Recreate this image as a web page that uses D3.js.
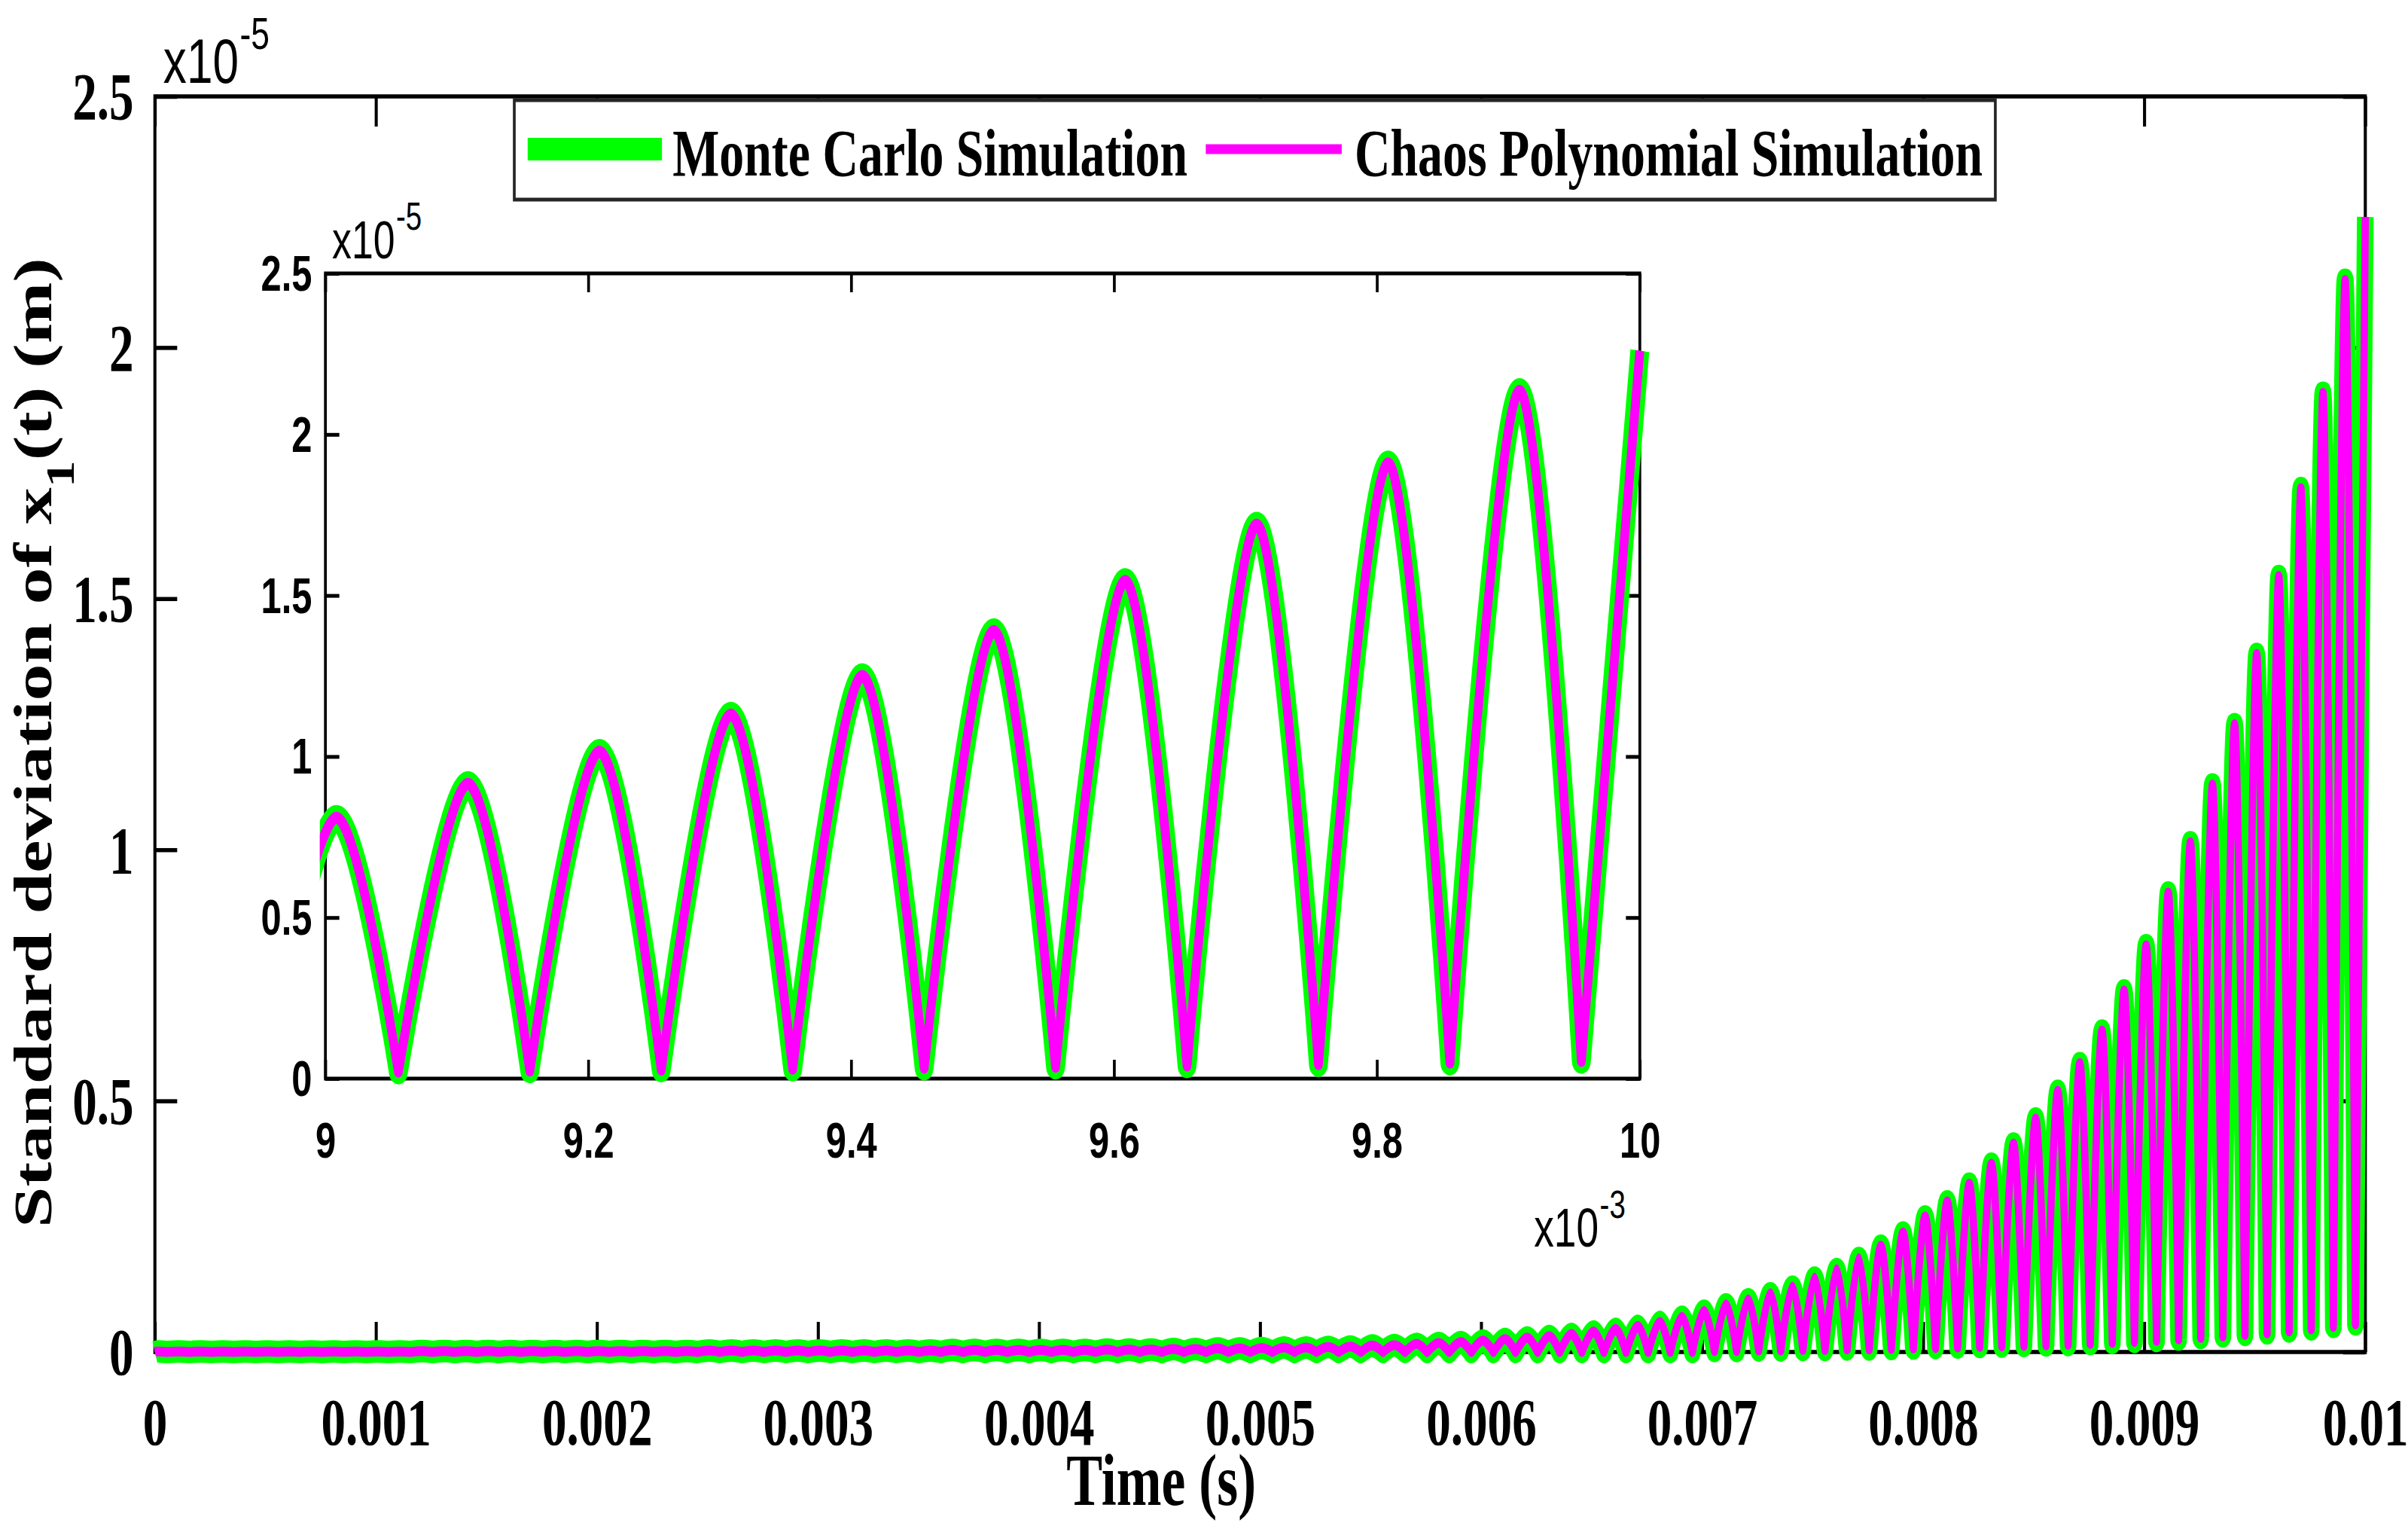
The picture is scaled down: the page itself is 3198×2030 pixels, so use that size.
<!DOCTYPE html>
<html>
<head>
<meta charset="utf-8">
<script src="https://cdn.jsdelivr.net/npm/d3@7"></script>
<style>
  body { margin: 0; background: #fff; }
</style>
</head>
<body>
<script>
// std deviation values are in units of 1e-5 m
var period = 1e-4;        // s, one oscillation
var peakPhase = 0.085;    // where the peak sits inside a period
var troughPhase = 0.555;  // where the trough sits inside a period
var startValue = 0;
var endTime = 0.01;
var endValue = 2.26;

var peakValues = [
  0.001, 0.001, 0.001, 0.001, 0.001, 0.001, 0.001, 0.001, 0.001, 0.001,
  0.001, 0.001, 0.002, 0.002, 0.002, 0.002, 0.002, 0.002, 0.002, 0.002,
  0.002, 0.002, 0.002, 0.002, 0.002, 0.003, 0.003, 0.003, 0.003, 0.003,
  0.003, 0.003, 0.003, 0.003, 0.003, 0.003, 0.004, 0.004, 0.004, 0.004,
  0.004, 0.004, 0.004, 0.005, 0.005, 0.005, 0.006, 0.006, 0.007, 0.007,
  0.008, 0.009, 0.009, 0.010, 0.011, 0.013, 0.014, 0.016, 0.018, 0.020,
  0.023, 0.026, 0.029, 0.032, 0.036, 0.041, 0.046, 0.052, 0.060, 0.070,
  0.082, 0.095, 0.105, 0.117, 0.130, 0.148, 0.165, 0.187, 0.212, 0.238,
  0.270, 0.300, 0.335, 0.375, 0.415, 0.465, 0.520, 0.575, 0.640, 0.720,
  0.810, 0.915, 1.015, 1.130, 1.250, 1.390, 1.545, 1.720, 1.910, 2.135
];

var troughValues = [
  0, 0, 0, 0, 0, 0, 0, 0, 0, 0,
  0, 0, 0, 0, 0, 0, 0, 0, 0, 0,
  0, 0, 0, 0, 0, 0, 0, 0, 0, 0,
  0, 0, 0, 0, 0, 0, 0, 0, 0, 0,
  0, 0, 0, 0, 0, 0, 0, 0, 0, 0,
  0, 0, 0, 0, 0, 0, 0, 0, 0, 0,
  0, 0, 0, 0, 0, 0, 0, 0, 0, 0,
  0.002, 0.002, 0.003, 0.003, 0.004, 0.004, 0.005, 0.005, 0.006, 0.007,
  0.008, 0.009, 0.010, 0.011, 0.012, 0.013, 0.014, 0.016, 0.018, 0.020,
  0.022, 0.025, 0.028, 0.031, 0.034, 0.037, 0.041, 0.045, 0.050, 0.055
];

var mainXTicks = [0, 0.001, 0.002, 0.003, 0.004, 0.005, 0.006, 0.007, 0.008, 0.009, 0.01];
var mainYTicks = [0, 0.5, 1, 1.5, 2, 2.5];
var insetXTicks = [9, 9.2, 9.4, 9.6, 9.8, 10];   // x 1e-3 s
var insetYTicks = [0, 0.5, 1, 1.5, 2, 2.5];
var seriesNames = ["Monte Carlo Simulation", "Chaos Polynomial Simulation"];
var seriesColors = ["#00ff00", "#ff00ff"];
var seriesWidths = [30, 13];
var insetWidths = [34, 16];

// the whole figure is squeezed horizontally, so draw wide and scale x
var SX = 0.74;
var W = 3198, H = 2030;
var serif = "'Liberation Serif', 'Times New Roman', serif";
var sans = "'Liberation Sans', Arial, sans-serif";

var main = {left: 278, right: 4245, top: 128, bottom: 1795};
var inset = {left: 584, right: 2943, top: 363, bottom: 1432};

// series points: start, then peak / trough per cycle (trough doubled so the curve has a cusp)
var points = [{t: 0, v: startValue}];
peakValues.forEach(function(p, k) {
  points.push({t: (k + peakPhase) * period, v: p});
  var tr = {t: (k + troughPhase) * period, v: troughValues[k]};
  points.push(tr, tr);
});
points.push({t: endTime, v: endValue});

var svg = d3.select("body").append("svg")
    .attr("width", W)
    .attr("height", H);
svg.append("rect").attr("width", W).attr("height", H).attr("fill", "#fff");

var root = svg.append("g").attr("transform", "scale(" + SX + ",1)");

function drawAxes(g, x, y, box, opt) {
  var ax = g.append("g");
  ax.append("g").attr("transform", "translate(0," + box.bottom + ")")
      .call(d3.axisBottom(x).tickValues(opt.xTicks).tickSizeInner(-opt.tick).tickSizeOuter(0)
        .tickPadding(opt.xPad).tickFormat(opt.xFormat));
  var left = ax.append("g").attr("transform", "translate(" + box.left + ",0)")
      .call(d3.axisLeft(y).tickValues(opt.yTicks).tickSizeInner(-opt.tick).tickSizeOuter(0)
        .tickPadding(opt.yPad).tickFormat(opt.yFormat));
  ax.append("g").attr("transform", "translate(0," + box.top + ")")
      .call(d3.axisTop(x).tickValues(opt.xTicks).tickSizeInner(-opt.tick).tickSizeOuter(0).tickFormat(""));
  ax.append("g").attr("transform", "translate(" + box.right + ",0)")
      .call(d3.axisRight(y).tickValues(opt.yTicks).tickSizeInner(-opt.tick).tickSizeOuter(0).tickFormat(""));
  ax.selectAll(".domain").remove();
  ax.selectAll(".tick line").attr("stroke", "#000").attr("stroke-width", opt.lw);
  ax.selectAll("text")
      .attr("fill", "#000")
      .attr("font-family", opt.font)
      .attr("font-weight", "bold")
      .attr("font-size", opt.fontSize);
  left.selectAll("text").attr("dy", "0.34em");
  ax.append("rect")
      .attr("x", box.left).attr("y", box.top)
      .attr("width", box.right - box.left).attr("height", box.bottom - box.top)
      .attr("fill", "none").attr("stroke", "#000").attr("stroke-width", opt.lw);
}

function drawSeries(g, x, y, data, widths) {
  var line = d3.line()
      .x(function(d) { return x(d.t); })
      .y(function(d) { return y(d.v); })
      .curve(d3.curveCatmullRom);
  seriesNames.forEach(function(name, i) {
    g.append("path")
        .datum(data)
        .attr("d", line)
        .attr("fill", "none")
        .attr("stroke", seriesColors[i])
        .attr("stroke-width", widths[i])
        .attr("stroke-linejoin", "round")
        .attr("stroke-linecap", "butt");
  });
}

// ---- main axes ----
var xMain = d3.scaleLinear().domain([0, 0.01]).range([main.left, main.right]);
var yMain = d3.scaleLinear().domain([0, 2.5]).range([main.bottom, main.top]);

drawAxes(root, xMain, yMain, main, {
  xTicks: mainXTicks, yTicks: mainYTicks, tick: 40, lw: 5.5,
  xPad: 61, yPad: 38, font: serif, fontSize: 88,
  xFormat: function(d) { return d === 0 ? "0" : String(+d.toFixed(3)); },
  yFormat: function(d) { return String(d); }
});

drawSeries(root.append("g"), xMain, yMain, points, seriesWidths);

// ---- legend ----
var lg = root.append("g");
lg.append("rect")
    .attr("x", 923).attr("y", 133).attr("width", 3581 - 923).attr("height", 265 - 133)
    .attr("fill", "#fff").attr("stroke", "#262626").attr("stroke-width", 5);
var legendItems = [
  {x1: 947, x2: 1188, tx: 1207},
  {x1: 2164, x2: 2408, tx: 2431}
];
seriesNames.forEach(function(name, i) {
  var it = legendItems[i];
  lg.append("line")
      .attr("x1", it.x1).attr("x2", it.x2).attr("y1", 198).attr("y2", 198)
      .attr("stroke", seriesColors[i]).attr("stroke-width", seriesWidths[i]);
  lg.append("text")
      .attr("x", it.tx).attr("y", 233)
      .attr("font-family", serif).attr("font-weight", "bold").attr("font-size", 89)
      .text(name);
});

// ---- inset axes ----
var xInset = d3.scaleLinear().domain([9e-3, 10e-3]).range([inset.left, inset.right]);
var yInset = d3.scaleLinear().domain([0, 2.5]).range([inset.bottom, inset.top]);

root.append("rect")
    .attr("x", inset.left).attr("y", inset.top)
    .attr("width", inset.right - inset.left).attr("height", inset.bottom - inset.top)
    .attr("fill", "#fff");

var xInsetAxis = d3.scaleLinear().domain([9, 10]).range([inset.left, inset.right]);
drawAxes(root, xInsetAxis, yInset, inset, {
  xTicks: insetXTicks, yTicks: insetYTicks, tick: 25, lw: 5,
  xPad: 58, yPad: 24, font: sans, fontSize: 66,
  xFormat: function(d) { return String(d); },
  yFormat: function(d) { return String(d); }
});

root.append("clipPath").attr("id", "insetClip")
  .append("rect")
    .attr("x", inset.left - 10).attr("y", inset.top - 60)
    .attr("width", inset.right - inset.left + 80).attr("height", inset.bottom - inset.top + 120);

var insetPoints = points.filter(function(d) { return d.t >= 8.8e-3; });
drawSeries(root.append("g").attr("clip-path", "url(#insetClip)"), xInset, yInset, insetPoints, insetWidths);

// ---- exponent labels: "x10" with the power set right after it ----
function expLabel(x, y, size, sup, supRise, supSize) {
  var base = root.append("text").attr("x", x).attr("y", y)
      .attr("font-family", sans).attr("font-size", size).text("x10");
  var w = base.node().getComputedTextLength();
  root.append("text").attr("x", x + w + 2).attr("y", y - supRise)
      .attr("font-family", sans).attr("font-size", supSize).text(sup);
}
expLabel(293, 110, 84, "-5", 45, 60);
expLabel(596, 343, 70, "-5", 38, 52);
expLabel(2753, 1655, 72, "-3", 38, 52);

// ---- axis titles ----
root.append("text")
    .attr("x", 2084).attr("y", 1998)
    .attr("text-anchor", "middle")
    .attr("font-family", serif).attr("font-weight", "bold").attr("font-size", 97)
    .text("Time (s)");

// y title built from separate pieces so the subscript can sit lower
var ylG = root.append("g").attr("transform", "translate(92,986) rotate(-90)");
var ylParts = [
  {text: "Standard deviation of x", size: 98, drop: 0},
  {text: "1", size: 72, drop: 40},
  {text: " (t) (m)", size: 98, drop: 0}
];
var ylNodes = ylParts.map(function(p) {
  return ylG.append("text")
      .attr("y", p.drop)
      .attr("font-family", serif).attr("font-weight", "bold").attr("font-size", p.size)
      .text(p.text);
});
var ylLen = ylNodes.map(function(n) { return n.node().getComputedTextLength(); });
var ylX = -d3.sum(ylLen) / 2;
ylNodes.forEach(function(n, i) {
  n.attr("x", ylX);
  ylX += ylLen[i];
});
</script>
</body>
</html>
